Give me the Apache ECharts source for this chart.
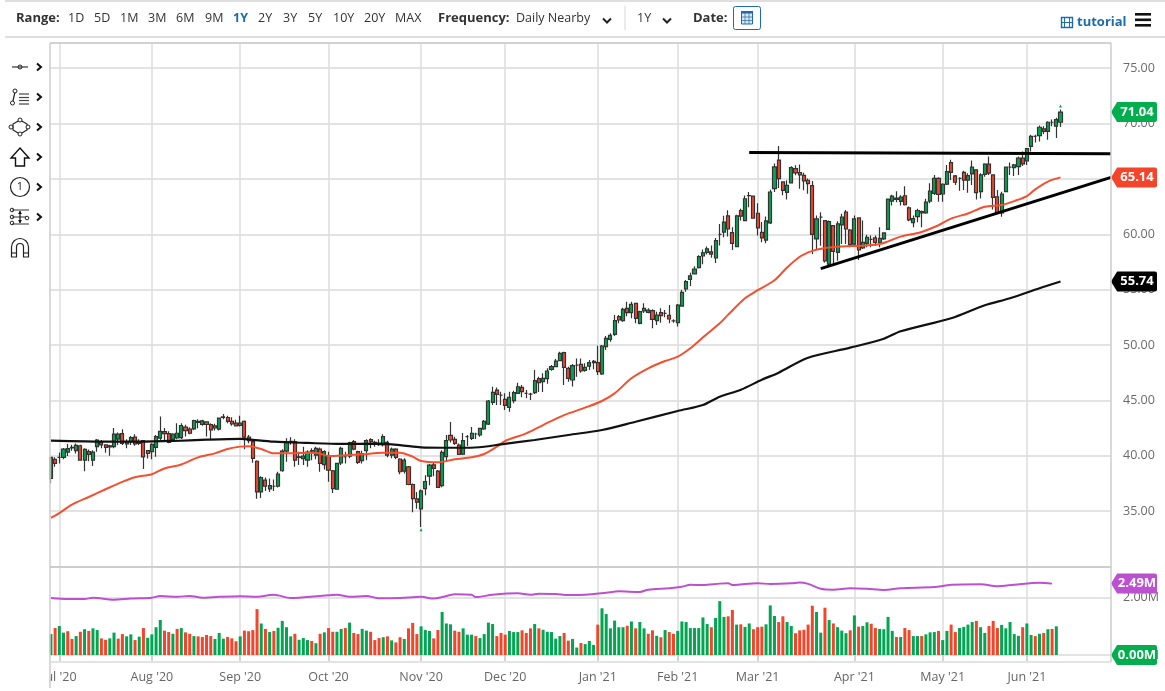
<!DOCTYPE html>
<html>
<head>
<meta charset="utf-8">
<title>Crude oil daily chart</title>
<script src="https://cdn.jsdelivr.net/npm/echarts@6/dist/echarts.min.js"></script>
<style>
  html, body { margin: 0; padding: 0; background: #fff; }
  #chart { width: 1165px; height: 691px; }
</style>
</head>
<body>
<div id="chart"></div>
<script>
// one slot per trading day, plus the empty slots on the right of the last bar
const SLOTS = 253;

const monthTicks = [2, 24, 45, 66, 88, 108, 130, 149, 168, 191, 212, 232];
const monthLabels = ["Jul '20", "Aug '20", "Sep '20", "Oct '20", "Nov '20", "Dec '20", "Jan '21", "Feb '21", "Mar '21", "Apr '21", "May '21", "Jun '21"];

const open = [
  37.94,39.67,39.85,39.85,40.33,40.7,40.45,40.9,39.6,40.36,
  39.6,40.82,41.18,40.97,40.8,40.82,41.5,42,41.06,41.27,
  41.67,41.27,41.36,40.45,40.36,40.76,41.58,42.18,42,41.48,
  41.6,41.64,42.58,42.4,42.42,43,42.82,43.06,42.8,42.7,
  42.4,43.45,43.45,43.1,42.94,42.73,43.1,41.67,41.27,39.5,
  36.73,37.8,37,37.24,37.24,38.64,40.42,41.2,41.27,39.9,
  39.73,39.6,40.4,40.06,40.6,39.2,39.97,38.64,36.97,39.36,
  39.9,39.97,41.27,40.36,39.55,40.45,41.45,41.18,41,40.97,
  41.2,40.06,40.6,39.7,38.6,39,37.4,36.1,35.2,37.03,
  38.15,39.18,38.61,37.29,39.91,41.84,41.48,40.96,40.15,41.72,
  41.57,41.96,41.87,42.41,42.86,44.82,45.93,45.48,45.09,44.37,
  44.97,45.63,46.17,45.63,45.57,45.69,46.96,46.69,46.96,47.8,
  48.04,48.58,49.31,47.89,46.84,48.19,48.25,47.71,48.1,48.4,
  48.4,47.38,49.85,50.51,50.96,52.56,52.2,53.31,52.92,53.76,
  51.96,53.07,52.95,53.1,52.2,52.92,52.86,52.68,52.17,52.02,
  53.52,55.06,55.92,56.43,56.99,58.04,58.36,58.42,57.86,60,
  60.2,61.67,60.15,58.88,62.15,61.24,63.48,63.45,61.9,60.18,
  59.48,61.03,64.12,66.7,64.73,63.79,64.64,65.94,65.58,65.33,
  64.88,64.39,59.58,61.55,61.24,57.3,60.79,58.36,60.85,62,
  60.39,59.12,61.48,58.76,59.18,59.55,59.67,59.27,59.58,60.45,
  63,63.27,62.97,63.48,62.39,61.06,61.6,62.06,61.94,63,
  63.7,65.06,63.64,64.52,66.48,65.27,65.06,65.6,64.9,65.45,
  65.82,63.85,65.42,66.33,65.36,63.39,61.94,63.85,66.06,66.03,
  66.12,66.88,66.64,67.94,68.85,68.91,69.52,69.3,70.12,69.76,
  70.12
];
const close = [
  39.85,39.3,39.85,40.6,40.64,40.75,40.94,39.6,40.57,40.12,
  40.33,41.42,40.97,40.76,40.9,41.94,41.94,41.12,41.27,41.64,
  41.06,41.12,39.9,40.2,41.03,41.73,42.2,42,41.21,41.94,
  42.03,42.73,42.27,42.03,43.18,43.1,43.15,42.82,42.33,42.5,
  43.4,43.5,43.1,42.88,42.7,42.94,41.67,41.36,39.76,36.73,
  38.03,37.24,37.3,37.24,38.33,40.42,41.2,41.3,39.6,39.85,
  39.97,40.33,40.45,40.67,39.3,40.36,38.7,37.03,39.3,40.67,
  39.9,41.18,40.6,39.4,40.2,41.36,41.27,41.2,41.12,41.73,
  40.06,40.6,39.85,38.55,39.6,37.4,36.12,35.8,36.82,37.67,
  39.15,38.85,37.14,40.3,41.36,41.42,41.11,40.12,41.36,41.72,
  42.02,41.96,42.47,43.1,44.94,45.72,45.54,45.48,44.55,45.27,
  45.69,46.23,45.78,45.63,45.57,46.78,46.6,46.99,47.65,48.04,
  48.55,49.25,47.98,46.99,48.13,48.19,47.65,47.98,48.4,48.52,
  47.59,49.91,50.6,50.87,52.2,52.26,53.22,52.92,53.67,52.41,
  53.01,53.31,53.16,52.32,52.71,52.65,52.86,52.35,52.17,53.61,
  54.75,55.72,56.25,56.85,57.98,58.33,58.69,58.21,59.43,60,
  61.1,60.48,59.18,61.67,61.64,63.21,63.5,61.45,60.58,59.67,
  61.21,63.82,66.09,65.03,63.97,64.42,66.03,65.55,65.36,64.82,
  64.58,60,61.39,61.55,57.6,61.15,58.45,60.94,61.55,60.48,
  59.06,61.39,58.58,59.27,59.73,59.55,59.27,59.64,60.12,63.18,
  63.45,63.15,63.36,62.67,61.3,61.42,62.15,61.94,62.9,63.91,
  65.06,63.6,64.52,65.67,65.6,64.7,65.06,64.9,65.3,66.06,
  63.76,65.36,66.33,65.52,63.33,61.94,63.64,66.06,66.06,66.27,
  66.88,66.36,67.73,68.85,68.85,69.67,69.3,70.12,70.12,70.36,
  71.04
];
const low = [
  37.5,39.0,39.3,39.67,39.97,40.45,40.2,39.55,38.6,39.5,
  39.06,40.36,40.67,40.27,40,40.67,40.97,40.97,40.67,40.97,
  40.9,40.97,38.8,39.75,39.67,39.9,41.42,41.42,41.12,41.27,
  41.48,41.5,41.73,41.94,42.33,42.48,42.7,41.73,41.48,42.27,
  42.27,43.3,42.94,42.7,42.64,42.64,40.58,41.12,39.36,36.12,
  36.18,36.82,36.73,36.82,37.12,38.55,39.45,41,39,39.15,
  39.15,39,39.6,39.67,38.55,38.76,37.64,36.64,36.94,39.15,
  39.3,39.76,40.5,39.24,39.3,39.6,40.67,40.8,40.88,40.82,
  39.85,39.76,39.67,38.33,38.4,37.33,34.9,35.2,33.55,36.42,
  37.33,38.15,37.1,37.14,39.46,41.2,40.96,40.06,40.06,40.87,
  41.42,41.5,41.72,42.32,42.77,44.58,44.58,44.58,44.13,43.98,
  44.73,45.57,45.27,45.18,45.03,45.57,45.75,45.75,46.51,47.68,
  47.98,48.55,46.39,46.69,46.24,47.14,47.5,47.59,47.74,47.8,
  47.29,47.29,49.55,50.3,50.81,51.96,52.11,52.59,52.41,51.96,
  51.87,52.9,52.86,51.51,51.81,52.02,52.5,51.96,52.02,51.66,
  53.46,54.82,55.33,56.4,56.9,57.29,58.18,57.89,57.41,58.99,
  59.73,59.8,58.58,58.82,61.24,61.18,62.45,61.4,59.88,59.27,
  59.18,60.94,63.82,64.18,63.52,63.15,64.58,65.33,64.12,63.97,
  63.67,58.21,58.67,58.97,57.45,57.2,57.36,57.6,59.12,59.12,
  58.82,58.97,57.67,58.67,58.82,58.82,58.97,58.82,59.48,60.39,
  62.6,62.9,62.6,62.6,61.18,60.64,61.09,60.64,61.85,62.8,
  63.55,62.94,62.94,64.45,64.9,64.45,63.94,64,63.76,64.45,
  63.15,63.24,65.2,65.36,62.24,61.82,61.58,63.79,65.36,65.27,
  65.36,66.18,66.27,67.48,68.3,68.39,69.06,68.55,69.76,68.7,
  69.7
];
const high = [
  39.9,39.85,40.3,40.7,41.06,41,41.1,41,40.67,40.57,
  40.5,41.5,41.42,41,41,42.5,42.1,42.4,41.48,41.79,
  41.94,41.48,41.42,40.5,41.12,41.88,43.55,42.5,42.2,42.03,
  42.94,42.94,42.8,42.58,43.24,43.3,43.24,43.1,42.94,42.88,
  43.45,43.76,43.6,43.48,43.24,43.6,43.18,41.88,41.48,39.6,
  38.15,38.03,37.94,37.85,38.55,40.58,41.58,41.67,41.48,40.36,
  40.8,40.5,40.67,40.8,40.73,40.5,40.36,38.7,39.36,40.8,
  40.36,41.27,41.42,40.45,40.45,41.48,41.58,41.36,41.48,41.94,
  41.36,40.73,40.67,39.76,39.76,39.06,37.48,36.73,36.94,38.24,
  39.24,39.36,38.7,40.5,41.87,43.05,41.72,41.1,42.06,41.87,
  42.6,42.08,42.53,43.22,45.03,46.23,46.17,45.78,45.63,45.78,
  45.87,46.59,46.38,45.93,45.69,47.75,47.14,47.44,47.89,48.19,
  48.73,49.4,49.4,48.04,48.28,48.79,48.79,48.34,48.64,48.64,
  49.94,50,50.81,51.05,52.71,52.71,53.37,53.91,53.91,53.82,
  53.1,53.76,53.31,53.22,53.01,53.31,53.16,53.61,52.32,53.7,
  54.96,55.87,56.52,57.11,58.1,58.63,58.9,58.99,59.67,60.92,
  61.67,62.17,60.64,61.76,62.3,63.5,63.82,63.5,62.8,61.1,
  61.6,64.03,66.39,67.97,64.79,64.88,66.15,66.24,66.3,65.55,
  65.03,64.82,61.7,62,61.3,61.24,60.85,61.18,61.85,62.2,
  60.48,61.7,61.55,61.24,59.97,59.88,59.88,60.64,60.18,63.24,
  63.58,63.88,63.52,64.33,62.52,61.7,62.3,62.15,63.2,64.6,
  65.36,65.15,64.6,66.27,66.73,65.36,65.15,65.73,65.52,66.67,
  65.88,65.52,66.42,67.03,65.42,64,63.85,66.12,66.48,66.36,
  67.03,67.48,67.79,69,69,69.82,69.76,70.21,70.36,70.52,
  71.27
];

// volume in millions, one bar short of the candles as in the source
const volume = [
  0.73,0.94,1.01,0.78,0.83,0.56,0.66,0.81,0.90,0.84,
  0.93,0.87,0.58,0.53,0.58,0.78,0.57,0.73,0.65,0.72,
  0.52,0.64,0.94,0.60,0.72,0.97,1.22,0.85,0.80,0.74,
  0.91,0.94,0.79,0.74,0.66,0.65,0.63,0.70,0.66,0.56,
  0.77,0.57,0.63,0.58,0.48,0.65,0.85,0.83,0.87,1.60,
  1.10,0.91,0.80,0.84,0.95,1.19,0.97,0.65,0.74,0.53,
  0.59,0.52,0.49,0.41,0.74,0.79,0.94,0.81,0.81,0.91,
  0.94,1.13,0.77,0.73,0.91,0.85,0.81,0.52,0.59,0.62,
  0.65,0.51,0.44,0.62,0.56,0.93,1.12,0.73,1.00,0.87,
  0.84,0.58,0.87,1.50,1.10,1.07,0.85,0.81,0.93,0.71,
  0.71,0.66,0.59,0.73,1.13,1.08,0.66,0.77,0.71,0.84,
  0.80,0.80,0.86,0.77,0.93,1.08,0.93,0.88,0.81,0.80,
  0.57,0.66,0.77,0.50,0.56,0.26,0.42,0.38,0.49,0.35,
  1.06,1.63,1.43,0.93,1.20,0.97,0.97,1.02,1.17,0.93,
  1.15,0.93,0.74,0.86,0.67,0.62,0.87,0.80,0.74,0.84,
  1.17,1.15,0.94,0.94,0.94,1.31,1.08,0.97,1.29,1.88,
  1.33,1.35,1.57,1.06,1.07,0.98,1.10,0.90,0.97,0.99,
  1.07,1.73,1.36,1.15,1.35,1.15,1.01,0.76,0.86,0.88,
  1.06,1.72,1.50,0.78,1.65,1.22,1.10,0.97,0.85,0.76,
  0.86,1.38,0.99,1.01,1.14,1.09,0.94,0.91,0.90,1.33,
  0.84,0.63,0.63,0.94,0.87,0.66,0.66,0.66,0.72,0.79,
  0.80,0.84,0.52,0.84,1.06,0.80,0.94,0.98,1.06,1.15,
  1.19,0.97,0.77,1.01,1.19,0.94,1.05,0.93,1.15,0.73,
  0.67,0.97,1.10,0.70,0.66,0.74,0.77,0.90,0.91,1.00
];
const volumeDir = (
  'GRGGRRGRGR' + 'GGRRGGRRGG' + 'RGRGGGGRRG' + 'RGRRGRRRRG' +
  'GGRRRGRRRR' + 'GRGRGGGGRG' + 'GGRGRGRRGG' + 'RGRRGGRRRG' +
  'RGRRGRRRGG' + 'GRRGGGRRGG' + 'GRGGGGRRRG' + 'GGRRRGRGGG' +
  'GGRRGGRGGG' + 'RGGGGGGRGR' + 'GGRRGRGRRG' + 'GGGGGGGRGG' +
  'GRRGRGGRRR' + 'GGGRRGGRRR' + 'RRGGRGRGGG' + 'RGRGGRRGGG' +
  'GRGRRGGRGG' + 'GRGGRRGGGG' + 'RGGRRRGGGG' + 'GRGGRGRGRG'
).split('');

// moving averages as [bar, value], read where the curve could be read
const ma50 = [
  [0,34.39],[2,34.82],[5,35.58],[9,36.27],[13,36.97],[17,37.64],[20,38.06],[24,38.33],[27,38.85],[31,39.21],
  [35,39.85],[39,40.21],[42,40.6],[45,40.82],[47,40.85],[50,40.6],[53,40.21],[55,40.21],[59,40.24],[63,40.27],
  [66,39.97],[70,40.03],[74,40.12],[79,40.27],[83,40.27],[86,39.91],[88,39.52],[92,39.4],[96,39.67],[100,39.85],
  [103,40.15],[106,40.81],[108,41.33],[113,42.02],[117,42.77],[122,43.67],[127,44.34],[131,44.94],[134,45.63],[138,46.99],
  [142,47.89],[146,48.55],[149,48.94],[152,49.7],[155,50.69],[159,51.96],[161,52.74],[165,54.22],[168,54.95],[172,55.85],
  [175,57],[178,57.97],[180,58.36],[181,58.5],[184,58.76],[188,58.9],[193,58.97],[197,59.12],[199,59.36],[202,59.79],
  [205,60.03],[207,60.21],[211,60.82],[214,61.42],[218,61.88],[222,62.48],[226,62.64],[229,63],[232,63.45],[234,64.06],
  [237,64.76],[240,65.14]
];
const ma200 = [
  [0,41.36],[8,41.3],[15,41.27],[21,41.27],[29,41.33],[37,41.45],[45,41.52],[47,41.48],[53,41.27],[61,41.15],
  [69,41.06],[77,41.09],[83,40.96],[88,40.75],[93,40.72],[99,40.72],[103,40.81],[107,41.02],[115,41.42],[123,41.87],
  [131,42.32],[139,43.07],[149,44.04],[155,44.58],[159,45.33],[164,45.96],[169,46.86],[173,47.5],[180,48.85],[190,49.76],
  [198,50.57],[202,51.24],[214,52.42],[222,53.59],[228,54.22],[235,55.13],[240,55.74]
];
const volumeAvg = [
  [0,1.99],[4,1.95],[8,1.95],[10,2.0],[15,1.93],[19,1.97],[24,2.0],[26,2.06],[30,2.03],[33,2.06],
  [36,2.0],[40,2.03],[45,2.05],[49,2.03],[53,2.1],[57,1.99],[64,2.06],[68,2.1],[71,2.03],[75,2.06],
  [78,1.98],[83,1.99],[88,2.03],[91,1.97],[93,2.02],[96,2.12],[100,2.10],[101,2.02],[105,2.10],[111,2.15],
  [114,2.10],[116,2.14],[120,2.13],[123,2.09],[127,2.10],[132,2.17],[135,2.22],[140,2.20],[142,2.28],[147,2.33],
  [150,2.38],[152,2.45],[155,2.44],[159,2.49],[161,2.50],[162,2.44],[165,2.48],[168,2.50],[171,2.48],[176,2.50],
  [178,2.53],[180,2.48],[183,2.31],[186,2.28],[190,2.33],[194,2.31],[198,2.27],[202,2.33],[210,2.37],[214,2.45],
  [221,2.47],[225,2.40],[229,2.45],[235,2.52],[238,2.49]
];

// hand-drawn lines on the price pane
const resistance = [[166,67.38],[252,67.28]];
const support = [[183,56.9],[252,65.14]];
const extremes = [[88,33.3],[240,71.6]];

const priceTicks = [35, 40, 45, 50, 55, 60, 65, 70, 75];
const volumeTicks = [0, 2];

const FONT = '"Open Sans", "Noto Sans", sans-serif';
const GREEN = '#00A651';
const RED = '#F4452B';
const PURPLE = '#BD4FD1';
const BLUE = '#1A6CAD';
const GRID = '#E3E3E3';
const BORDER = '#CDCDCD';
const TAG_PATH = 'path://M0,10 L6,0 H43 Q45,0 45,2 V18 Q45,20 43,20 H6 Z';

const categories = Array.from({ length: SLOTS }, (_, i) => String(i));
const isMonth = i => monthTicks.includes(i);

// price tag sitting on the axis, anchored to the last slot
function tag(value, text, color) {
  return {
    silent: true,
    z: 20,
    data: [{
      coord: [SLOTS - 1, value],
      symbol: TAG_PATH,
      symbolSize: [46, 20],
      symbolOffset: [23, 0],
      itemStyle: { color },
      label: {
        show: true, position: 'inside', formatter: text, offset: [3, 0],
        color: '#fff', fontFamily: FONT, fontWeight: 'bold', fontSize: 13,
      },
    }],
  };
}

function xAxis(gridIndex, showLabels) {
  return {
    type: 'category', gridIndex, data: categories, boundaryGap: false,
    axisLine: { show: false },
    axisTick: showLabels
      ? { show: true, interval: i => isMonth(i), length: 6, lineStyle: { color: BORDER, width: 1.5 } }
      : { show: false },
    axisLabel: showLabels
      ? { show: true, interval: i => isMonth(i), margin: 9, color: '#666', fontFamily: FONT, fontSize: 12.5,
          formatter: (v, i) => monthLabels[monthTicks.indexOf(i)] || '' }
      : { show: false },
    splitLine: { show: true, interval: i => isMonth(i), lineStyle: { color: '#DCDCDC', width: 1.5 } },
  };
}

function lineSeries(name, data, color, width, tagInfo, extra) {
  return Object.assign({
    name, type: 'line', data, showSymbol: false, symbol: 'none',
    lineStyle: { color, width }, itemStyle: { color }, z: 5, silent: true,
    markPoint: tagInfo,
  }, extra);
}

// toolbar and drawing tools, plain graphic elements around the two panes
const LABEL = { fill: '#333', font: '12.5px ' + FONT };
const STROKE = { fill: 'none', stroke: '#222', lineWidth: 1.2 };

function txt(x, y, text, style) {
  return { type: 'text', x, y, style: Object.assign({ text, textVerticalAlign: 'middle' }, LABEL, style) };
}
function seg(x1, y1, x2, y2, stroke, lineWidth) {
  return { type: 'line', shape: { x1, y1, x2, y2 }, style: { stroke, lineWidth }, z: 30 };
}
function dot(cx, cy, r) {
  return { type: 'circle', shape: { cx, cy, r }, style: { fill: '#fff', stroke: '#222', lineWidth: 1 } };
}
function chevronRight(y) {
  return { type: 'polyline', shape: { points: [[37, y - 3.5], [41, y], [37, y + 3.5]] }, style: { fill: 'none', stroke: '#111', lineWidth: 2 } };
}
function chevronDown(x, y) {
  return { type: 'polyline', shape: { points: [[x - 4, y - 2.5], [x, y + 1.5], [x + 4, y - 2.5]] }, style: { fill: 'none', stroke: '#222', lineWidth: 2 } };
}
function rect(x, y, width, height, style) {
  return { type: 'rect', shape: { x, y, width, height }, style };
}

const rangeItems = [['1D', 68], ['5D', 94], ['1M', 120], ['3M', 148], ['6M', 176], ['9M', 205], ['1Y', 233], ['2Y', 258], ['3Y', 283], ['5Y', 308], ['10Y', 333], ['20Y', 364], ['MAX', 395]];

const toolbar = [
  seg(5, 1, 1165, 1, '#D5D5D5', 1.5),
  seg(5, 37, 1165, 37, '#D5D5D5', 1.5),
  txt(16, 18, 'Range:', { font: 'bold 13px ' + FONT }),
  ...rangeItems.map(([t, x]) => txt(x, 18.5, t, t === '1Y' ? { fill: BLUE, font: 'bold 12.5px ' + FONT } : {})),
  txt(438, 18, 'Frequency:', { font: 'bold 13px ' + FONT }),
  txt(516, 18, 'Daily Nearby'),
  chevronDown(607, 21),
  seg(625, 6, 625, 30, '#D5D5D5', 1),
  txt(637, 18.5, '1Y'),
  chevronDown(667, 21),
  txt(693, 18, 'Date:', { font: 'bold 13px ' + FONT }),
  { type: 'rect', shape: { x: 733.5, y: 6.5, width: 27, height: 23, r: 2 }, style: { fill: '#fff', stroke: BLUE, lineWidth: 1 } },
  rect(741, 11, 12, 3, { fill: BLUE }),
  rect(741.5, 13, 11, 11, { fill: '#DCE8F3', stroke: BLUE, lineWidth: 1 }),
  seg(745, 13, 745, 24, BLUE, 0.7), seg(749, 13, 749, 24, BLUE, 0.7), seg(741, 17, 753, 17, BLUE, 0.7), seg(741, 20.5, 753, 20.5, BLUE, 0.7),
  // tutorial link
  rect(1061.5, 17.5, 11, 10, { fill: '#fff', stroke: BLUE, lineWidth: 1.4 }),
  seg(1064.5, 17, 1064.5, 28, BLUE, 1), seg(1069.5, 17, 1069.5, 28, BLUE, 1), seg(1061, 22.5, 1073, 22.5, BLUE, 1),
  txt(1077, 22.5, 'tutorial', { fill: BLUE, font: 'bold 13px ' + FONT }),
  rect(1135, 13, 16, 2.6, { fill: '#111' }),
  rect(1135, 18.5, 16, 2.6, { fill: '#111' }),
  rect(1135, 24, 16, 2.6, { fill: '#111' }),
];

const tools = [
  seg(12, 67, 28, 67, '#222', 1.1), dot(20, 67, 2), chevronRight(67),
  { type: 'line', shape: { x1: 15, y1: 92, x2: 12.5, y2: 103 }, style: { stroke: '#222', lineWidth: 1.2 } },
  dot(15, 91, 2), dot(12.5, 103, 2),
  seg(19, 94, 29, 94, '#444', 1.2), seg(19, 97.5, 29, 97.5, '#444', 1.2), seg(19, 100.5, 29, 100.5, '#444', 1.2), seg(19, 104, 29, 104, '#444', 1.2),
  chevronRight(97),
  { type: 'polygon', shape: { points: [[20, 120], [27, 124], [27, 130], [20, 134], [13, 130], [13, 124]] }, style: STROKE },
  dot(20, 120, 2), dot(11, 127, 2), dot(28, 127, 2), dot(20, 134, 2), chevronRight(127),
  { type: 'polygon', shape: { points: [[20, 148], [29, 158], [24.5, 158], [24.5, 166], [15.5, 166], [15.5, 158], [11, 158]] }, style: { fill: '#fff', stroke: '#111', lineWidth: 1.4 } },
  chevronRight(157),
  { type: 'circle', shape: { cx: 20, cy: 187, r: 9.5 }, style: { fill: '#fff', stroke: '#222', lineWidth: 1.2 } },
  { type: 'text', x: 20, y: 187, style: { text: '1', fill: '#222', font: '11px ' + FONT, textAlign: 'center', textVerticalAlign: 'middle' } },
  chevronRight(187),
  seg(12, 210, 29, 210, '#333', 1), seg(12, 217, 26, 217, '#333', 1), seg(12, 224, 29, 224, '#333', 1),
  seg(20, 211, 20, 223, '#111', 1.2),
  { type: 'polygon', shape: { points: [[20, 211], [18, 214], [22, 214]] }, style: { fill: '#111' } },
  { type: 'polygon', shape: { points: [[20, 223], [18, 220], [22, 220]] }, style: { fill: '#111' } },
  dot(12, 210, 1.8), dot(12, 217, 1.8), dot(12, 223, 1.8), dot(27, 218, 1.8), chevronRight(217),
  // magnet
  { type: 'arc', shape: { cx: 20, cy: 247, r: 8.5, startAngle: Math.PI, endAngle: 0, clockwise: true }, style: STROKE },
  { type: 'arc', shape: { cx: 20, cy: 247, r: 3.5, startAngle: Math.PI, endAngle: 0, clockwise: true }, style: STROKE },
  { type: 'polyline', shape: { points: [[11.5, 247], [11.5, 257], [16.5, 257], [16.5, 247]] }, style: STROKE },
  { type: 'polyline', shape: { points: [[23.5, 247], [23.5, 257], [28.5, 257], [28.5, 247]] }, style: STROKE },
  seg(11.5, 253, 16.5, 253, '#222', 1.1), seg(23.5, 253, 28.5, 253, '#222', 1.1),
];

const frame = [
  // hides what runs past the left edge of the panes, as the source does
  { type: 'rect', shape: { x: 44, y: 43, width: 5.5, height: 648 }, style: { fill: '#fff' }, z: 29 },
  { type: 'rect', shape: { x: 20, y: 664, width: 29.5, height: 27 }, style: { fill: '#fff' }, z: 29 },
  seg(50, 43, 50, 688, BORDER, 1.5),
  seg(50, 43, 1111, 43, BORDER, 1.5),
  seg(50, 567, 1111, 567, BORDER, 2),
  seg(50, 662, 1111, 662, GRID, 2),
  seg(1111, 43, 1111, 662, BORDER, 1.5),
];

const chart = echarts.init(document.getElementById('chart'), null, { renderer: 'canvas' });

chart.setOption({
  animation: false,
  backgroundColor: '#fff',
  textStyle: { fontFamily: FONT },
  grid: [
    { left: 50.9, right: 54, top: 43, height: 523.4 },
    { left: 50.9, right: 54, top: 567, height: 94.7 },
  ],
  xAxis: [xAxis(0, false), xAxis(1, true)],
  yAxis: [
    {
      type: 'value', gridIndex: 0, position: 'right', min: 30, max: 77.28, interval: 5,
      axisLine: { show: false }, axisTick: { show: false },
      axisLabel: {
        margin: 12, color: '#6B6B6B', fontFamily: FONT, fontSize: 12.5,
        formatter: v => priceTicks.includes(v) ? v.toFixed(2) : '',
      },
      splitLine: { lineStyle: { color: GRID, width: 2 } },
    },
    {
      type: 'value', gridIndex: 1, position: 'right', min: -0.234, max: 3.07,
      axisLine: { show: false },
      axisTick: { show: false, customValues: volumeTicks },
      axisLabel: {
        margin: 12, color: '#6B6B6B', fontFamily: FONT, fontSize: 12.5,
        customValues: volumeTicks, formatter: v => v.toFixed(2) + 'M',
      },
      splitLine: { lineStyle: { color: GRID, width: 2 } },
    },
  ],
  series: [
    {
      name: 'Price', type: 'candlestick', xAxisIndex: 0, yAxisIndex: 0, z: 3, silent: true, clip: false,
      barWidth: 3.6,
      data: open.map((o, i) => [o, close[i], low[i], high[i]]),
      itemStyle: { color: GREEN, color0: RED, borderColor: '#333', borderColor0: '#333', borderWidth: 1.2 },
      markPoint: {
        silent: true, z: 20,
        data: [
          ...extremes.map(([i, v]) => ({
            coord: [i, v], symbol: 'triangle', symbolSize: 3,
            itemStyle: { color: GREEN }, label: { show: false },
          })),
          ...tag(71.04, '71.04', '#00AE4D').data,
        ],
      },
    },
    lineSeries('MA 50', ma50, '#F4502F', 2, tag(65.14, '65.14', RED), { smooth: 0.3 }),
    lineSeries('MA 200', ma200, '#111', 2.2, tag(55.74, '55.74', '#000'), { smooth: 0.3 }),
    lineSeries('Resistance', resistance, '#000', 3, undefined, { z: 6 }),
    lineSeries('Support', support, '#000', 3, undefined, { z: 6 }),
    {
      name: 'Volume', type: 'bar', xAxisIndex: 1, yAxisIndex: 1, barWidth: 3, silent: true, clip: false,
      data: volume.map((v, i) => ({
        value: v,
        itemStyle: { color: volumeDir[i] === 'G' ? GREEN : RED },
      })),
      markPoint: tag(0, '0.00M', '#00AE4D'),
    },
    lineSeries('Volume average', volumeAvg, PURPLE, 2, tag(2.49, '2.49M', PURPLE), { xAxisIndex: 1, yAxisIndex: 1, smooth: 0.3 }),
  ],
  graphic: { elements: [...toolbar, ...tools, ...frame] },
});

window.addEventListener('resize', () => chart.resize());
</script>
</body>
</html>
